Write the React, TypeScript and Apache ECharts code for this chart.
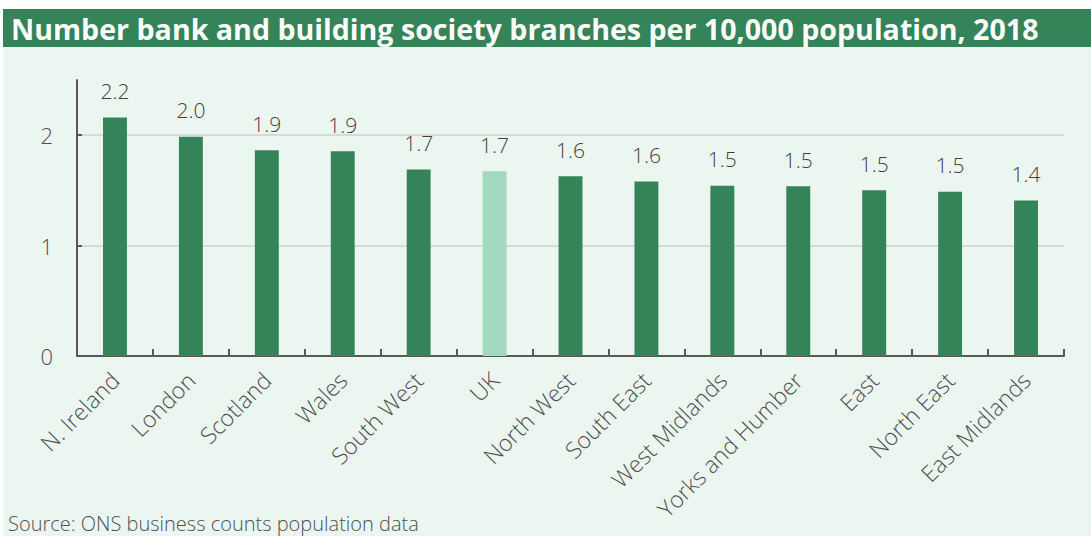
import React, { useEffect, useRef } from "react";
import * as echarts from "echarts";

const categories = [
  "N. Ireland",
  "London",
  "Scotland",
  "Wales",
  "South West",
  "UK",
  "North West",
  "South East",
  "West Midlands",
  "Yorks and Humber",
  "East",
  "North East",
  "East Midlands",
];
const values = [2.16, 1.985, 1.864, 1.855, 1.69, 1.674, 1.629, 1.581, 1.541, 1.538, 1.502, 1.487, 1.409];
const highlight = "UK";
const yTicks = [0, 1, 2];
const titleText = "Number bank and building society branches per 10,000 population, 2018";
const sourceText = "Source: ONS business counts population data";

const DARK = "#358359";
const LIGHT = "#A3DABF";
const MINT = "#ECF6F1";
const TEXT = "#505050";
const FONT = "'Open Sans', 'Noto Sans', sans-serif";

export default function App() {
  const ref = useRef<HTMLDivElement>(null);
  useEffect(() => {
    if (!ref.current) return;
    const chart = echarts.init(ref.current, undefined, { renderer: "svg" });
    chart.setOption({
      animation: false,
      backgroundColor: "#ffffff",
      textStyle: { fontFamily: FONT },
      graphic: [
        { type: "rect", z: -10, shape: { x: 3, y: 9, width: 1088, height: 38 }, style: { fill: DARK } },
        { type: "rect", z: -10, shape: { x: 3, y: 47, width: 1088, height: 489 }, style: { fill: MINT } },
        {
          type: "text",
          x: 11,
          y: 28,
          style: {
            text: titleText,
            fill: "#ffffff",
            font: `bold 28.6px ${FONT}`,
            textVerticalAlign: "middle",
          },
        },
        {
          type: "text",
          x: 8,
          y: 523,
          style: {
            text: sourceText,
            fill: TEXT,
            font: `300 20px ${FONT}`,
            textVerticalAlign: "middle",
          },
        },
      ],
      grid: { left: 77, right: 27, top: 80, bottom: 182, containLabel: false },
      xAxis: {
        type: "category",
        data: categories,
        axisLine: { lineStyle: { color: "#595959", width: 2 } },
        axisTick: { show: true, inside: true, length: 7, lineStyle: { color: "#595959", width: 2 } },
        axisLabel: {
          rotate: 45,
          interval: 0,
          margin: 20,
          color: TEXT,
          fontSize: 23,
          fontWeight: 300,
          fontFamily: FONT,
        },
      },
      yAxis: {
        type: "value",
        min: 0,
        max: 2.5,
        interval: 1,
        axisLine: { show: true, lineStyle: { color: "#595959", width: 2 } },
        axisTick: { show: true, inside: true, length: 5, customValues: yTicks, lineStyle: { color: "#595959", width: 2 } },
        axisLabel: {
          customValues: yTicks,
          margin: 24,
          color: TEXT,
          fontSize: 22,
          fontWeight: 300,
          fontFamily: FONT,
        },
        splitLine: { show: true, lineStyle: { color: "#D9D9D9", width: 2 } },
      },
      series: [
        {
          type: "bar",
          barWidth: "31.5%",
          data: categories.map((c, i) => ({
            value: values[i],
            itemStyle: { color: c === highlight ? LIGHT : DARK },
          })),
          label: {
            show: true,
            position: "top",
            distance: 16,
            color: "#404040",
            fontSize: 21,
            fontWeight: 300,
            fontFamily: FONT,
            formatter: (p: any) => Number(p.value).toFixed(1),
          },
        },
      ],
    });
    return () => chart.dispose();
  }, []);
  return (
    <div
      ref={ref}
      style={{ position: "fixed", left: 0, top: 0, width: 1091, height: 538 }}
    />
  );
}
